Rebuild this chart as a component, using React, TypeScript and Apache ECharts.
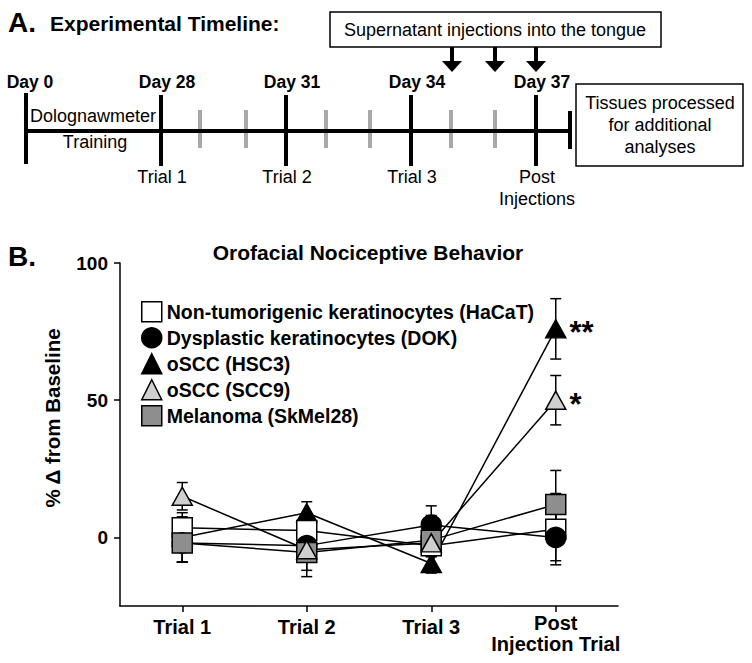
import React, { useEffect, useRef } from 'react';
import * as echarts from 'echarts';

// ---------- data ----------
const categories = ['Trial 1', 'Trial 2', 'Trial 3', 'Post\nInjection Trial'];
const groupNames = [
  'Non-tumorigenic keratinocytes (HaCaT)',
  'Dysplastic keratinocytes (DOK)',
  'oSCC (HSC3)',
  'oSCC (SCC9)',
  'Melanoma (SkMel28)',
];
const hacatMean = [3.5, 2.5, -3, 3];
const hacatErr = [4, 4, 4, 13];
const dokMean = [-2, -3, 4.5, 0];
const dokErr = [7, 5, 7, 8.5];
const hsc3Mean = [0, 9, -9.5, 76];
const hsc3Err = [9, 4, 3.5, 11];
const scc9Mean = [15, -4.5, -2, 50];
const scc9Err = [5, 7.5, 5, 9];
const skmelMean = [-2, -5.5, -1, 12];
const skmelErr = [7, 8.8, 9, 12.4];
const hsc3Sig = ['', '', '', '**'];
const scc9Sig = ['', '', '', '*'];
const noSig = ['', '', '', ''];
const yTickValues = [0, 50, 100];

const timelineDays = ['Day 0', 'Day 28', 'Day 31', 'Day 34', 'Day 37'];
const timelineTrials = ['', 'Trial 1', 'Trial 2', 'Trial 3', 'Post\nInjections'];

const FONT = '"Liberation Sans", Arial, Helvetica, sans-serif';

export default function App() {
  const ref = useRef<HTMLDivElement>(null);

  useEffect(() => {
    if (!ref.current) return;
    const chart = echarts.init(ref.current, null, { renderer: 'svg' });

    const groups = [
      { name: groupNames[0], mean: hacatMean, err: hacatErr, sig: noSig, symbol: 'rect', size: [20, 20], icon: 'rect', fill: '#ffffff' },
      { name: groupNames[1], mean: dokMean, err: dokErr, sig: noSig, symbol: 'circle', size: [20, 20], icon: 'circle', fill: '#000000' },
      { name: groupNames[2], mean: hsc3Mean, err: hsc3Err, sig: hsc3Sig, symbol: 'triangle', size: [20, 18], icon: 'triangle', fill: '#000000' },
      { name: groupNames[3], mean: scc9Mean, err: scc9Err, sig: scc9Sig, symbol: 'triangle', size: [20, 18], icon: 'triangle', fill: '#cfcfcf' },
      { name: groupNames[4], mean: skmelMean, err: skmelErr, sig: noSig, symbol: 'rect', size: [20, 20], icon: 'rect', fill: '#8e8e8e' },
    ];
    const drawOrder = [2, 0, 1, 4, 3];

    const series: any[] = [];
    drawOrder.forEach((gi) => {
      const g = groups[gi];
      series.push({
        type: 'custom',
        name: g.name + ' err',
        silent: true,
        z: 1,
        data: g.mean.map((m, i) => [i, m - g.err[i], m + g.err[i]]),
        encode: { x: 0, y: [1, 2] },
        renderItem: (params: any, api: any) => {
          const xi = api.value(0);
          const lo = api.coord([xi, api.value(1)]);
          const hi = api.coord([xi, api.value(2)]);
          const cw = 5.5;
          const st = { stroke: '#000', lineWidth: 1.5 };
          return {
            type: 'group',
            children: [
              { type: 'line', shape: { x1: hi[0], y1: hi[1], x2: lo[0], y2: lo[1] }, style: st },
              { type: 'line', shape: { x1: hi[0] - cw, y1: hi[1], x2: hi[0] + cw, y2: hi[1] }, style: st },
              { type: 'line', shape: { x1: lo[0] - cw, y1: lo[1], x2: lo[0] + cw, y2: lo[1] }, style: st },
            ],
          };
        },
      });
      series.push({
        type: 'line',
        name: g.name + ' line',
        silent: true,
        z: 2,
        data: g.mean,
        symbol: 'none',
        lineStyle: { color: '#000', width: 1.5 },
      });
    });
    drawOrder.forEach((gi, k) => {
      const g = groups[gi];
      series.push({
        type: 'scatter',
        name: g.name,
        z: 3 + k,
        symbol: g.symbol,
        symbolSize: g.size,
        itemStyle: { color: g.fill, borderColor: '#000', borderWidth: 1.5, opacity: 1 },
        data: g.mean.map((m, i) =>
          g.sig[i]
            ? {
                value: m,
                label: {
                  show: true,
                  formatter: g.sig[i],
                  position: 'right',
                  distance: 3,
                  offset: [0, 4],
                  fontSize: 31,
                  fontWeight: 'bold',
                  fontFamily: FONT,
                  color: '#000',
                },
              }
            : { value: m }
        ),
      });
    });

    // timeline graphics
    const tlY = 131;
    const majorX = [26, 161, 286, 411, 536];
    const minorX = [200, 246, 326, 370, 451, 495];
    const arrowX = [452, 495, 536];
    const graphic: any[] = [];
    const txt = (text: string, x: number, y: number, size: number, bold: boolean, extra: any = {}) => ({
      type: 'text',
      x,
      y,
      ...extra,
      style: {
        text,
        fill: '#000',
        fontSize: size,
        fontWeight: bold ? 'bold' : 'normal',
        fontFamily: FONT,
        align: extra.align || 'center',
        verticalAlign: 'middle',
        lineHeight: size * 1.22,
      },
    });
    graphic.push(txt('A.', 8, 22, 28, true, { align: 'left' }));
    graphic.push(txt('Experimental Timeline:', 50, 23, 21, true, { align: 'left' }));
    graphic.push({ type: 'rect', shape: { x: 330, y: 12, width: 331, height: 35 }, style: { fill: '#fff', stroke: '#000', lineWidth: 1.5 } });
    graphic.push(txt('Supernatant injections into the tongue', 495, 30, 18, false));
    arrowX.forEach((x) => {
      graphic.push({ type: 'rect', shape: { x: x - 2, y: 47, width: 4, height: 15 }, style: { fill: '#000' } });
      graphic.push({ type: 'polygon', shape: { points: [[x - 10, 61], [x + 10, 61], [x, 72]] }, style: { fill: '#000' } });
    });
    minorX.forEach((x) => {
      graphic.push({ type: 'line', shape: { x1: x, y1: 110, x2: x, y2: 148 }, style: { stroke: '#a8a8a8', lineWidth: 4 } });
    });
    graphic.push({ type: 'line', shape: { x1: 26, y1: tlY, x2: 570, y2: tlY }, style: { stroke: '#000', lineWidth: 4 } });
    majorX.forEach((x, i) => {
      graphic.push({ type: 'line', shape: { x1: x, y1: i === 0 ? 93 : 95, x2: x, y2: i === 0 ? 164 : 166 }, style: { stroke: '#000', lineWidth: 4 } });
      graphic.push(txt(timelineDays[i], i === 0 ? 30 : x + 6, 82, 17.5, true));
      if (timelineTrials[i]) {
        const lines = timelineTrials[i].split('\n');
        lines.forEach((l, j) => graphic.push(txt(l, x + 1, 177 + j * 22, 18, false)));
      }
    });
    graphic.push({ type: 'line', shape: { x1: 570, y1: 111, x2: 570, y2: 149 }, style: { stroke: '#000', lineWidth: 4 } });
    graphic.push(txt('Dolognawmeter', 93, 116, 18, false));
    graphic.push(txt('Training', 95, 142, 18, false));
    graphic.push({ type: 'rect', shape: { x: 576, y: 84, width: 167, height: 82 }, style: { fill: '#fff', stroke: '#000', lineWidth: 1.5 } });
    graphic.push(txt('Tissues processed', 660, 103, 18, false));
    graphic.push(txt('for additional', 660, 125, 18, false));
    graphic.push(txt('analyses', 660, 147, 18, false));

    // panel B texts
    graphic.push(txt('B.', 8, 256, 28, true, { align: 'left' }));
    graphic.push(txt('Orofacial Nociceptive Behavior', 368, 252, 21, true));
    graphic.push(txt('% Δ from Baseline', 52, 418, 20.5, true, { rotation: Math.PI / 2 }));

    const option: any = {
      animation: false,
      backgroundColor: '#ffffff',
      grid: { left: 120, right: 134, top: 263, bottom: 57, containLabel: false },
      legend: {
        orient: 'vertical',
        left: 136,
        top: 296,
        itemWidth: 20,
        itemHeight: 20,
        itemGap: 4.5,
        itemTextGap: 6,
        selectedMode: false,
        textStyle: { fontSize: 19.5, lineHeight: 20, fontWeight: 'bold', color: '#000', fontFamily: FONT },
        data: groups.map((g) => ({
          name: g.name,
          icon: g.icon,
          itemStyle: { color: g.fill, borderColor: '#000', borderWidth: 1.5 },
        })),
      },
      xAxis: {
        type: 'category',
        data: categories.map((c) =>
          c.indexOf('\n') >= 0 ? { value: c, textStyle: { padding: [-4, 0, 0, 0] } } : c
        ),
        boundaryGap: true,
        axisLine: { onZero: false, lineStyle: { color: '#000', width: 1.5 } },
        axisTick: { show: true, alignWithLabel: true, length: 6, interval: 0, lineStyle: { color: '#000', width: 1.5 } },
        axisLabel: {
          interval: 0,
          margin: 10,
          fontSize: 20,
          fontWeight: 'bold',
          color: '#000',
          fontFamily: FONT,
          lineHeight: 21.5,
        },
        splitLine: { show: false },
      },
      yAxis: {
        type: 'value',
        min: -25,
        max: 100,
        interval: 25,
        axisLine: { show: true, lineStyle: { color: '#000', width: 1.5 } },
        axisTick: { show: true, length: 6, customValues: yTickValues, lineStyle: { color: '#000', width: 1.5 } },
        axisLabel: {
          customValues: yTickValues,
          margin: 12,
          fontSize: 19,
          fontWeight: 'bold',
          color: '#000',
          fontFamily: FONT,
        },
        splitLine: { show: false },
      },
      graphic,
      series,
    };
    chart.setOption(option);
    return () => chart.dispose();
  }, []);

  return (
    <div
      ref={ref}
      style={{ position: 'absolute', left: 0, top: 0, width: 752, height: 663, background: '#fff' }}
    />
  );
}
